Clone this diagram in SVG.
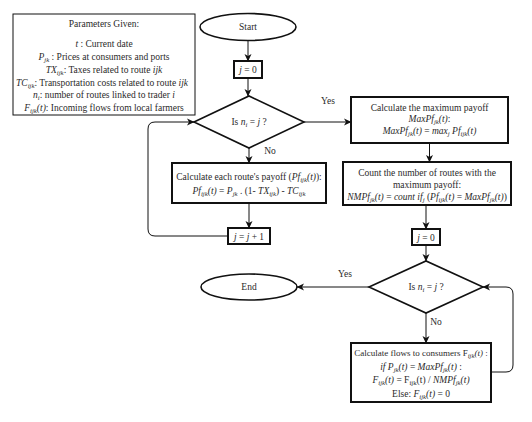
<svg xmlns="http://www.w3.org/2000/svg" width="532" height="422" viewBox="0 0 532 422">
<defs>
<marker id="ah" markerWidth="8" markerHeight="8" refX="7" refY="4" orient="auto" markerUnits="userSpaceOnUse">
<path d="M0,0.5 L7.5,4 L0,7.5 L2,4 z" fill="#111"/>
</marker>
<style>
text{font-family:"Liberation Serif","Times New Roman",serif;font-size:9.5px;fill:#2a2a2a;text-anchor:middle}
.i{font-style:italic}
.s{font-size:6.8px}
.sm{font-size:9px}
.node{fill:#fff;stroke:#111}
.thin{stroke-width:1}
.mid{stroke-width:1.6}
.thick{stroke-width:2}
.conn{fill:none;stroke:#111;stroke-width:1;marker-end:url(#ah)}
</style>
</defs>
<rect width="532" height="422" fill="#fff"/>

<g id="params">
<rect class="node thin" x="13" y="14" width="182" height="101"/>
<text x="104" y="27">Parameters Given:</text>
<text x="104" y="47"><tspan class="i">t</tspan> : Current date</text>
<text x="104" y="59.5"><tspan class="i">P</tspan><tspan class="s i" dy="2">jk</tspan><tspan dy="-2"> : Prices at consumers and ports</tspan></text>
<text x="104" y="72.5"><tspan class="i">TX</tspan><tspan class="s i" dy="2">ijk</tspan><tspan dy="-2">: Taxes related to route </tspan><tspan class="i">ijk</tspan></text>
<text x="102" y="85.5"><tspan class="i">TC</tspan><tspan class="s i" dy="2">ijk</tspan><tspan dy="-2">: Transportation costs related to route </tspan><tspan class="i">ijk</tspan></text>
<text x="104" y="98"><tspan class="i">n</tspan><tspan class="s i" dy="2">i</tspan><tspan dy="-2">: number of routes linked to trader </tspan><tspan class="i">i</tspan></text>
<text x="104" y="111"><tspan class="i">F</tspan><tspan class="s i" dy="2">ijk</tspan><tspan class="i" dy="-2">(t)</tspan>: Incoming flows from local farmers</text>
</g>

<g id="start">
<ellipse class="node mid" cx="248" cy="27" rx="48" ry="13.5"/>
<text x="248" y="30">Start</text>
</g>

<g id="j0a">
<rect class="node thick" x="234" y="61" width="28" height="17"/>
<text x="248" y="72.5"><tspan class="i">j</tspan> = 0</text>
</g>

<g id="dec1">
<polygon class="node mid" points="194,122 249,96 304,122 249,148"/>
<text x="249" y="125">Is <tspan class="i">n</tspan><tspan class="s i" dy="2">i</tspan><tspan dy="-2"> = </tspan><tspan class="i">j</tspan> ?</text>
</g>

<g id="payoff">
<rect class="node thick" x="172" y="163" width="154" height="40"/>
<text x="249" y="180">Calculate each route's payoff (<tspan class="i">Pf</tspan><tspan class="s i" dy="2">ijk</tspan><tspan class="i" dy="-2">(t)</tspan>):</text>
<text x="249" y="193.5"><tspan class="i">Pf</tspan><tspan class="s i" dy="2">ijk</tspan><tspan class="i" dy="-2">(t)</tspan> = <tspan class="i">P</tspan><tspan class="s i" dy="2">jk</tspan><tspan dy="-2"> . (1- </tspan><tspan class="i">TX</tspan><tspan class="s i" dy="2">ijk</tspan><tspan dy="-2">) - </tspan><tspan class="i">TC</tspan><tspan class="s i" dy="2">ijk</tspan></text>
</g>

<g id="jinc">
<rect class="node thick" x="228" y="228" width="42" height="16"/>
<text x="249" y="239.5"><tspan class="i">j</tspan> = <tspan class="i">j</tspan> + 1</text>
</g>

<g id="maxpay">
<rect class="node thick" x="351" y="97" width="157" height="46"/>
<text x="429.5" y="111">Calculate the maximum payoff</text>
<text x="429.5" y="122"><tspan class="i">MaxPf</tspan><tspan class="s i" dy="2">jk</tspan><tspan class="i" dy="-2">(t)</tspan>:</text>
<text x="429.5" y="134"><tspan class="i">MaxPf</tspan><tspan class="s i" dy="2">jk</tspan><tspan class="i" dy="-2">(t)</tspan> = <tspan class="i">max</tspan><tspan class="s i" dy="2">j</tspan><tspan dy="-2"> </tspan><tspan class="i">Pf</tspan><tspan class="s i" dy="2">ijk</tspan><tspan class="i" dy="-2">(t)</tspan></text>
</g>

<g id="count">
<rect class="node thick" x="343" y="162" width="168" height="43"/>
<text x="427" y="176">Count the number of routes with the</text>
<text x="427" y="187.5">maximum payoff:</text>
<text x="427" y="199.5"><tspan class="i">NMPf</tspan><tspan class="s i" dy="2">jk</tspan><tspan class="i" dy="-2">(t)</tspan> = <tspan class="i">count if</tspan><tspan class="s i" dy="2">j</tspan><tspan dy="-2"> (</tspan><tspan class="i">Pf</tspan><tspan class="s i" dy="2">ijk</tspan><tspan class="i" dy="-2">(t)</tspan> = <tspan class="i">MaxPf</tspan><tspan class="s i" dy="2">jk</tspan><tspan class="i" dy="-2">(t)</tspan>)</text>
</g>

<g id="j0b">
<rect class="node thick" x="412" y="229" width="28" height="16"/>
<text x="426" y="240.5"><tspan class="i">j</tspan> = 0</text>
</g>

<g id="dec2">
<polygon class="node mid" points="369,287 426,261 483,287 426,313"/>
<text x="426" y="290">Is <tspan class="i">n</tspan><tspan class="s i" dy="2">i</tspan><tspan dy="-2"> = </tspan><tspan class="i">j</tspan> ?</text>
</g>

<g id="end">
<ellipse class="node mid" cx="249" cy="287" rx="48" ry="13"/>
<text x="249" y="290">End</text>
</g>

<g id="flows">
<rect class="node thick" x="351" y="343" width="140" height="59"/>
<text class="sm" x="421" y="356">Calculate flows to consumers F<tspan class="s i" dy="2">ijk</tspan><tspan class="i" dy="-2">(t)</tspan> :</text>
<text x="421" y="369.5"><tspan class="i">if  P</tspan><tspan class="s i" dy="2">jk</tspan><tspan class="i" dy="-2">(t)</tspan> =  <tspan class="i">MaxPf</tspan><tspan class="s i" dy="2">jk</tspan><tspan class="i" dy="-2">(t)</tspan> :</text>
<text x="421" y="383"><tspan class="i">F</tspan><tspan class="s i" dy="2">ijk</tspan><tspan class="i" dy="-2">(t)</tspan> =  F<tspan class="s" dy="2">ijk</tspan><tspan dy="-2">(t) / </tspan><tspan class="i">NMPf</tspan><tspan class="s i" dy="2">jk</tspan><tspan class="i" dy="-2">(t)</tspan></text>
<text x="421" y="397">Else: <tspan class="i">F</tspan><tspan class="s i" dy="2">ijk</tspan><tspan class="i" dy="-2">(t)</tspan> = 0</text>
</g>

<g id="connectors">
<line class="conn" x1="248" y1="40.5" x2="248" y2="61"/>
<line class="conn" x1="248" y1="78" x2="248" y2="96"/>
<line class="conn" x1="304" y1="122" x2="351" y2="122"/>
<line class="conn" x1="249" y1="148" x2="249" y2="163"/>
<line class="conn" x1="249" y1="203" x2="249" y2="228"/>
<path class="conn" d="M228,236 H155 Q148,236 148,229 V129 Q148,122 155,122 H194"/>
<line class="conn" x1="429.5" y1="143" x2="429.5" y2="162"/>
<line class="conn" x1="426" y1="205" x2="426" y2="229"/>
<line class="conn" x1="426" y1="245" x2="426" y2="261"/>
<line class="conn" x1="369" y1="287" x2="297" y2="287"/>
<line class="conn" x1="426" y1="313" x2="426" y2="343"/>
<path class="conn" d="M491,372 H506 Q513,372 513,365 V294 Q513,287 506,287 H483"/>
<text x="328" y="104">Yes</text>
<text x="270" y="154">No</text>
<text x="345" y="277">Yes</text>
<text x="436" y="325">No</text>
</g>
</svg>
